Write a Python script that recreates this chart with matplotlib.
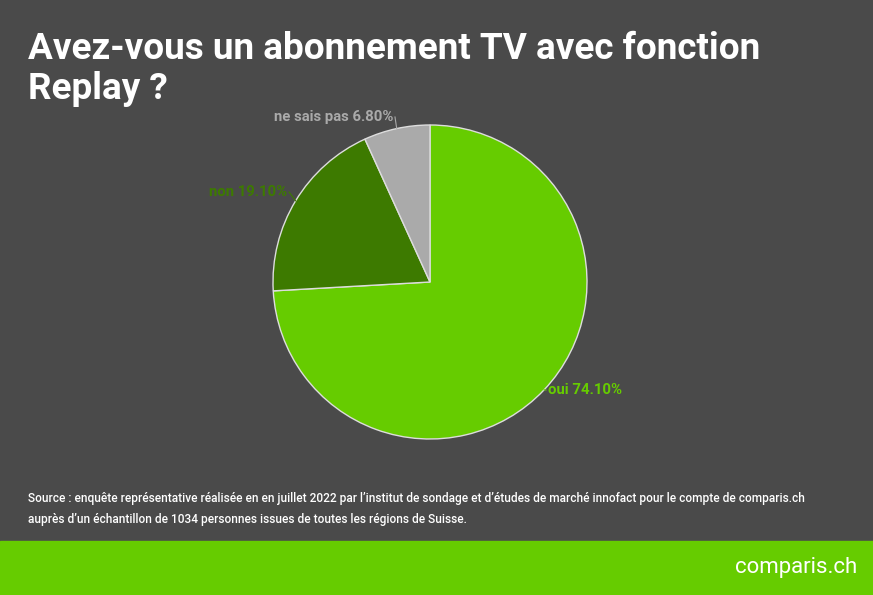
import matplotlib
matplotlib.use("Agg")
import matplotlib.pyplot as plt
from matplotlib.patches import Rectangle
import numpy as np

labels = ["oui", "non", "ne sais pas"]
values = [74.10, 19.10, 6.80]
colors = ["#66cc00", "#3d7a00", "#aaaaaa"]

W, H = 873, 595
fig = plt.figure(figsize=(W/100, H/100), dpi=100)
fig.patch.set_facecolor("#4a4a4a")
fig.text(28/W, 1-31/H, "Avez-vous un abonnement TV avec fonction\nReplay ?", color="white",
         fontsize=26.6, fontweight="bold", family="Roboto", va="top", linespacing=1.15)

cx, cy, r = 430, 282, 157
ax = fig.add_axes([(cx-r)/W, (H-cy-r)/H, 2*r/W, 2*r/H])
wedges, _ = ax.pie(values, colors=colors, startangle=90, counterclock=False,
                   wedgeprops=dict(edgecolor="#dddddd", linewidth=1))
ax.set_aspect("auto")
ax.set_xlim(-1, 1); ax.set_ylim(-1, 1)

lab_pos = [(546, 390, "left"), (289, 192, "right"), (395, 117, "right")]
for w, lab, v, c, (px, py, ha) in zip(wedges, labels, values, colors, lab_pos):
    ang = np.deg2rad((w.theta1 + w.theta2) / 2)
    ex, ey = np.cos(ang), np.sin(ang)
    lx = (px - cx) / r; ly = (cy - py) / r
    ax.plot([ex, lx], [ey, ly], color=c, lw=0.8, clip_on=False)
    ax.text(lx + (0.01 if ha == "left" else -0.01), ly, f"{lab} {v:.2f}%", color=c, ha=ha, va="center",
            fontsize=10.7, fontweight="bold", family="Roboto", clip_on=False)

fig.text(28/W, 1-509/H, "Source : enquête représentative réalisée en en juillet 2022 par l’institut de sondage et d’études de marché innofact pour le compte de comparis.ch\nauprès d’un échantillon de 1034 personnes issues de toutes les régions de Suisse.",
         color="white", fontsize=8.6, fontweight="medium", family="Roboto", va="center", linespacing=1.75)
fig.patches.append(Rectangle((0, 0), 1, 54/H, transform=fig.transFigure, color="#66cc00"))
fig.text(857/W, 27/H, "comparis.ch", color="white", fontsize=16, family="Roboto", ha="right", va="center")
fig.savefig("out.png", dpi=100, facecolor=fig.get_facecolor())
